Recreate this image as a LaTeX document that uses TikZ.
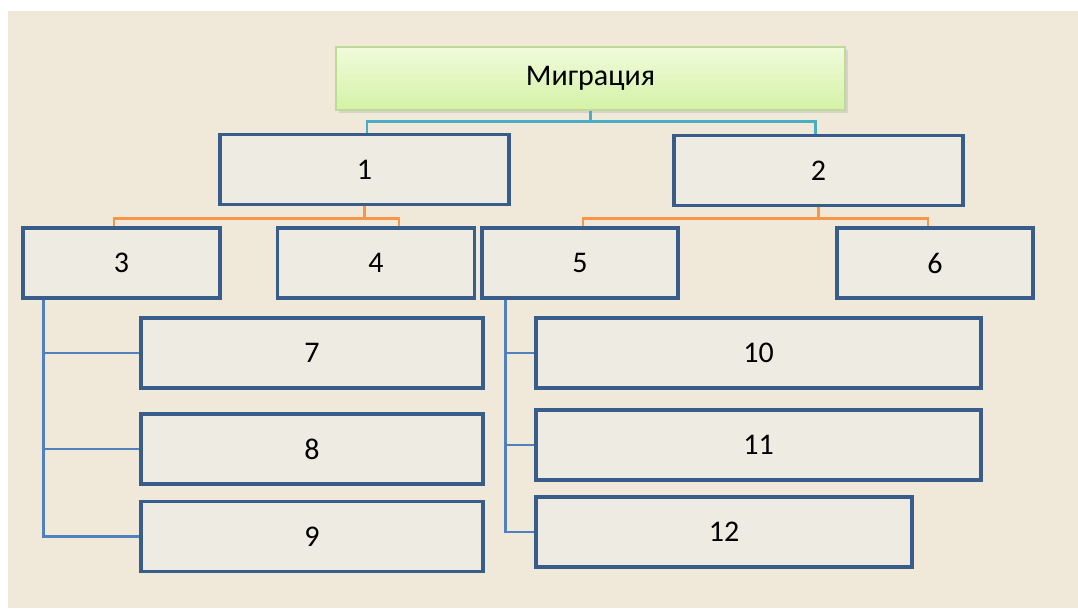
\documentclass[tikz,border=0pt]{standalone}
\usepackage{fontspec}
\setmainfont{Carlito}
\usepackage{xcolor}
\usepackage{tikz}
\usetikzlibrary{calc}

\definecolor{paper}{RGB}{240,232,216}
\definecolor{boxfill}{RGB}{238,235,227}
\definecolor{boxedge}{RGB}{56,93,138}
\definecolor{topgreen}{RGB}{240,251,219}
\definecolor{botgreen}{RGB}{212,242,166}
\definecolor{greenedge}{RGB}{190,218,150}
\definecolor{cyanline}{RGB}{75,172,198}
\definecolor{orangeline}{RGB}{247,150,70}
\definecolor{blueline}{RGB}{79,129,189}

\begin{document}
\begin{tikzpicture}[x=0.75pt,y=0.75pt,yscale=-1,xscale=1,
  every node/.style={font=\fontsize{22.5}{27}\selectfont},
  titlebox/.style={draw=greenedge,line width=0.8pt,top color=topgreen,bottom color=botgreen,minimum width=381.75pt,minimum height=47.25pt,inner sep=0pt},
  itembox/.style={draw=boxedge,line width=2.6pt,fill=boxfill,minimum height=52.5pt,inner sep=0pt},
  toplink/.style={draw=cyanline,line width=2pt},
  midlink/.style={draw=orangeline,line width=2pt},
  sublink/.style={draw=blueline,line width=2pt}]
\useasboundingbox (0,0) rectangle (1078,608);

%Shape: background
\fill [paper] (8,11) rectangle (1078,608);

%Shape: shadow of the title
\fill [black!25,opacity=0.5] (339,50) rectangle (848,113);

% Title Node
\node [titlebox] (mig) at (590.5,78.5) {Миграция};

% Level 1
\node [itembox,minimum width=216.75pt] (n1) at (364.5,169.5) {1};
\node [itembox,minimum width=216.75pt] (n2) at (818.5,170.5) {2};

% Level 2
\node [itembox,minimum width=147.75pt] (n3) at (121.5,263) {3};
\node [itembox,minimum width=147.75pt] (n4) at (376,263) {4};
\node [itembox,minimum width=147pt] (n5) at (580,263) {5};
\node [itembox,minimum width=147pt] (n6) at (935,263) {6};

% Level 3, left
\node [itembox,minimum width=256.5pt] (n7) at (312,353) {7};
\node [itembox,minimum width=256.5pt] (n8) at (312,449) {8};
\node [itembox,minimum width=256.5pt] (n9) at (312,536.5) {9};

% Level 3, right
\node [itembox,minimum width=333.75pt] (n10) at (758.5,353) {10};
\node [itembox,minimum width=333.75pt] (n11) at (758.5,445) {11};
\node [itembox,minimum width=282pt] (n12) at (724,532) {12};

% Connectors
\draw [toplink] (mig.south) -- ++(0,11) -| ($(n1.north)+(2.5,0)$);
\draw [toplink] (mig.south) -- ++(0,11) -| ($(n2.north)+(-3,0)$);

\draw [midlink] (n1.south) -- ++(0,12) -| ($(n3.north)+(-7.5,0)$);
\draw [midlink] (n1.south) -- ++(0,12) -| ($(n4.north)+(23,0)$);
\draw [midlink] (n2.south) -- ++(0,11) -| ($(n5.north)+(3,0)$);
\draw [midlink] (n2.south) -- ++(0,11) -| ($(n6.north)+(-7,0)$);

\foreach \k in {n7,n8,n9}
  \draw [sublink] ($(n3.south west)+(22,0)$) |- (\k.west);
\foreach \k in {n10,n11,n12}
  \draw [sublink] ($(n5.south west)+(25,0)$) |- (\k.west);

\end{tikzpicture}
\end{document}
